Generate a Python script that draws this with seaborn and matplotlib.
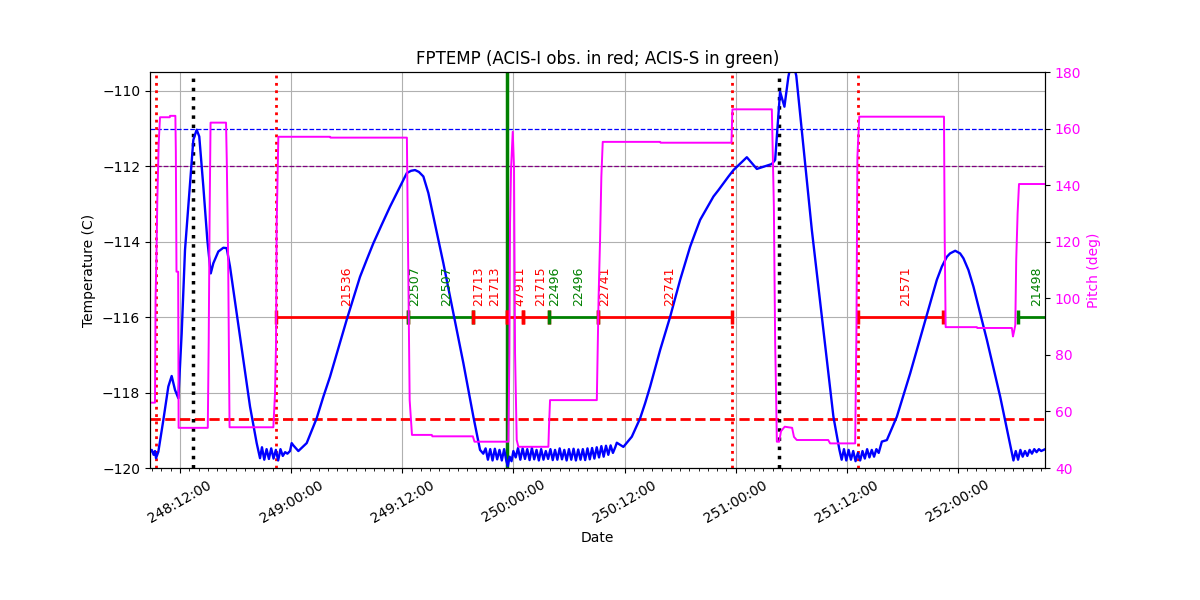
import numpy as np
import pandas as pd
import matplotlib
matplotlib.use("Agg")
import matplotlib.pyplot as plt
import matplotlib.dates as mdates
import seaborn as sns

# day 248 of 2019 -> 2019-09-05; all times below are hours since 248:00:00
BASE = pd.Timestamp("2019-09-05")

temp_hours = [
    # start, first double hump
    8.76, 8.95, 9.15, 9.30, 9.41, 9.66, 10.20, 10.74, 11.10, 11.46, 11.82, 12.18,
    12.54, 13.08, 13.44, 13.80, 14.08, 14.52, 14.95, 15.32, 15.60, 16.14, 16.68, 17.04,
    17.40, 18.12, 18.84, 19.56, 20.28, 20.64,
    # cold, noisy
    20.85, 21.10, 21.35, 21.60, 21.85, 22.10, 22.35, 22.60, 22.85, 23.10, 23.35, 23.60,
    23.88, 24.06, 24.24, 24.60, 24.78, 25.68,
    # big warm-up during 21536
    26.76, 27.48, 28.20, 29.10, 30.00, 30.72, 31.44, 32.16, 32.88, 33.78, 34.68, 35.58,
    36.49, 36.95, 37.38, 37.80, 38.28, 38.82, 39.36, 39.90, 40.44, 40.98, 41.52, 42.06,
    42.60, 43.14, 43.68, 44.40,
    # cold, noisy
    44.75, 45.00, 45.25, 45.50, 45.75, 46.00, 46.25, 46.50, 46.75, 47.00, 47.25, 47.40,
    47.60, 47.80, 48.00, 48.25, 48.50, 48.75, 49.00, 49.25, 49.50, 49.75, 50.00, 50.25,
    50.50, 50.75, 51.00, 51.25, 51.50, 51.75, 52.00, 52.25, 52.50, 52.75, 53.00, 53.25,
    53.50, 53.75, 54.00, 54.25, 54.50, 54.75, 55.00, 55.25, 55.50, 55.75, 56.00, 56.25,
    56.50, 56.75, 57.00, 57.25, 57.50, 57.75, 58.00, 58.25, 58.50, 58.75, 59.00, 59.17,
    # warm-up during 22741 and the spike
    59.88, 60.79, 61.69, 62.23, 62.77, 63.31, 63.85, 64.39, 64.93, 65.47, 66.01, 66.55,
    67.09, 67.63, 68.17, 68.89, 69.61, 70.15, 70.69, 71.23, 71.77, 73.21, 74.29, 75.91,
    76.27, 76.80, 77.27, 77.70, 78.10, 78.55, 80.23, 81.48, 82.56, 83.21,
    # cold, noisy
    83.45, 83.70, 83.95, 84.20, 84.45, 84.70, 84.95, 85.20, 85.45, 85.70, 85.95, 86.20,
    86.45, 86.70, 86.95, 87.20, 87.45, 87.79,
    # warm-up during 21571
    88.33, 89.41, 90.85, 92.29, 93.73, 94.27, 94.81, 95.16, 95.71, 96.24, 96.60, 97.14,
    97.68, 99.13, 100.57, 101.83,
    # cold, noisy
    102.00, 102.25, 102.50, 102.75, 103.00, 103.25, 103.50, 103.75, 104.00, 104.25, 104.50, 104.75,
    105.00, 105.43,
]
fptemp = [
    -119.58, -119.52, -119.65, -119.55, -119.74, -119.57, -118.73, -117.84, -117.56, -117.93, -118.15, -116.43,
    -114.22, -112.45, -111.30, -111.03, -111.21, -112.54, -113.95, -114.84, -114.57, -114.26, -114.16, -114.17,
    -114.66, -115.90, -117.14, -118.37, -119.34, -119.74,
    -119.45, -119.78, -119.50, -119.76, -119.48, -119.75, -119.52, -119.80, -119.50, -119.68, -119.58, -119.62,
    -119.55, -119.34, -119.40, -119.50, -119.55, -119.34,
    -118.68, -118.11, -117.58, -116.82, -116.07, -115.50, -114.93, -114.48, -114.04, -113.55, -113.07, -112.63,
    -112.18, -112.12, -112.10, -112.15, -112.27, -112.71, -113.33, -113.95, -114.57, -115.23, -115.90, -116.56,
    -117.22, -117.93, -118.64, -119.52,
    -119.62, -119.48, -119.78, -119.50, -119.80, -119.49, -119.77, -119.52, -119.80, -119.50, -119.82, -119.95,
    -119.70, -119.82, -119.55, -119.72, -119.47, -119.78, -119.48, -119.76, -119.50, -119.79, -119.47, -119.77,
    -119.52, -119.80, -119.50, -119.78, -119.55, -119.76, -119.50, -119.79, -119.52, -119.78, -119.48, -119.77,
    -119.52, -119.80, -119.50, -119.78, -119.49, -119.80, -119.51, -119.78, -119.50, -119.79, -119.48, -119.77,
    -119.47, -119.75, -119.45, -119.72, -119.42, -119.70, -119.41, -119.65, -119.40, -119.60, -119.45, -119.33,
    -119.44, -119.17, -118.68, -118.28, -117.84, -117.36, -116.87, -116.43, -115.99, -115.50, -115.01, -114.57,
    -114.13, -113.77, -113.42, -113.11, -112.80, -112.63, -112.45, -112.27, -112.10, -111.76, -112.07, -111.94,
    -111.83, -110.02, -110.42, -109.62, -109.15, -109.60, -113.69, -116.34, -118.64, -119.52,
    -119.78, -119.50, -119.80, -119.52, -119.78, -119.55, -119.82, -119.60, -119.80, -119.55, -119.75, -119.50,
    -119.72, -119.52, -119.70, -119.50, -119.60, -119.30,
    -119.26, -118.64, -117.49, -116.25, -115.01, -114.66, -114.40, -114.31, -114.24, -114.31, -114.44, -114.75,
    -115.19, -116.60, -118.11, -119.61,
    -119.80, -119.55, -119.78, -119.52, -119.70, -119.55, -119.68, -119.52, -119.62, -119.50, -119.58, -119.50,
    -119.55, -119.50,
]

pitch_hours = [
    8.76, 9.30, 9.36, 9.45, 9.55, 9.70, 9.84, 10.90, 10.92, 11.50, 11.55, 11.62, 11.80, 11.85,
    15.00, 15.10, 15.20, 15.30, 16.97, 17.05, 17.20, 17.35,
    22.08, 22.26, 22.37, 22.44, 22.62, 28.20, 28.25, 36.50, 36.60, 36.80, 37.05,
    39.19, 39.25, 43.62, 43.80, 47.29, 47.46, 47.57, 47.64, 47.75, 47.93, 48.07, 48.18, 48.36, 48.54,
    51.78, 51.85, 51.96, 57.01, 57.20, 57.36, 57.50, 57.65, 63.84, 63.90, 71.55, 71.65,
    75.91, 76.00, 76.13, 76.20, 76.27, 76.38, 76.45, 76.70, 76.90, 77.30, 78.10, 78.30, 78.60,
    82.00, 82.20, 84.91, 85.05, 85.15, 85.35, 94.50, 94.58, 94.68, 98.05, 98.10,
    101.83, 101.95, 102.05, 102.20, 102.30, 102.45, 102.60, 105.43,
]
pitch = [
    63.1, 63.1, 100, 113.5, 134.7, 154.8, 164.0, 164.0, 164.5, 164.5, 152, 109.4, 109.4, 54.2,
    54.2, 85, 130, 162.1, 162.1, 148.9, 113.5, 54.4,
    54.4, 66.4, 84, 126.5, 157.1, 157.1, 156.8, 156.8, 125.3, 64, 51.7,
    51.7, 51.2, 51.2, 49.3, 49.3, 49.3, 80.6, 126.6, 146, 158.9, 146, 80.6, 49.9, 47.5,
    47.5, 55, 64, 64, 100, 120.6, 143, 155.3, 155.3, 155.0, 155.0, 166.8,
    166.8, 153, 132.4, 107.6, 84.2, 64, 49.3, 49.3, 53, 54.6, 54.2, 51, 49.9,
    49.9, 48.7, 48.7, 90, 150, 164.2, 164.2, 120, 89.8, 89.8, 89.5,
    89.5, 86.5, 88, 90.5, 113.5, 130, 140.4, 140.4,
]

# science observations (I = ACIS-I, S = ACIS-S)
obs_start = [22.40, 36.66, 43.62, 47.35, 49.02, 51.82, 57.18, 85.26, 102.48]
obs_stop = [36.66, 43.62, 47.35, 49.02, 51.82, 57.18, 71.59, 94.38, 106.0]
obs_instr = ["I", "S", "I", "I", "I", "S", "I", "I", "S"]

label_hours = [30.0, 37.38, 40.81, 44.22, 46.02, 48.72, 50.96, 52.43, 55.02, 57.80, 64.82, 90.31, 104.53]
label_obsid = ["21536", "22507", "22507", "21713", "21713", "47911", "21715",
               "22496", "22496", "22741", "22741", "21571", "21498"]
label_instr = ["I", "S", "S", "I", "I", "I", "I", "S", "S", "I", "I", "I", "S"]

red_vlines = [9.41, 22.40, 71.59, 85.26]
black_vlines = [13.44, 76.64]
green_vline = 47.35

limit_planning = -111.0
limit_acis_i = -112.0
limit_red = -118.7
obs_level = -116.0

instr_color = {"I": "red", "S": "green"}


def to_time(hours):
    return BASE + pd.to_timedelta(np.asarray(hours, dtype=float), unit="h")


temp_df = pd.DataFrame({"time": to_time(temp_hours), "fptemp": fptemp})
pitch_df = pd.DataFrame({"time": to_time(pitch_hours), "pitch": pitch})

fig, ax1 = plt.subplots(figsize=(12, 6), dpi=100)
fig.subplots_adjust(left=0.125, right=0.871, bottom=0.22, top=0.88)

ax1.grid(True, color="#b0b0b0", lw=0.8)
ax1.set_axisbelow(True)

sns.lineplot(data=temp_df, x="time", y="fptemp", ax=ax1, color="blue", lw=1.7,
             estimator=None, sort=False, zorder=3)

ax1.axhline(limit_planning, color="blue", ls="--", lw=0.9)
ax1.axhline(limit_acis_i, color="purple", ls="--", lw=0.9)
ax1.axhline(limit_red, color="red", ls="--", lw=2)

for h in red_vlines:
    ax1.axvline(to_time([h])[0], color="red", ls=":", lw=2)
for h in black_vlines:
    ax1.axvline(to_time([h])[0], color="black", ls=":", lw=2.5)
ax1.axvline(to_time([green_vline])[0], color="green", lw=2.5)

for t0, t1, ins in zip(obs_start, obs_stop, obs_instr):
    tt = to_time([t0, t1])
    ax1.plot(tt, [obs_level, obs_level], color=instr_color[ins], lw=2,
             marker="|", markersize=10, markeredgewidth=2.5)

for h, obsid, ins in zip(label_hours, label_obsid, label_instr):
    ax1.text(to_time([h])[0], obs_level + 0.3, obsid, rotation=90, fontsize=9,
             ha="center", va="bottom", color=instr_color[ins])

ax2 = ax1.twinx()
sns.lineplot(data=pitch_df, x="time", y="pitch", ax=ax2, color="magenta", lw=1.4,
             estimator=None, sort=False)
ax2.set_ylim(40, 180)
ax2.set_ylabel("Pitch (deg)", color="magenta")
ax2.tick_params(axis="y", labelcolor="magenta")

ax1.set_xlim(to_time([8.76])[0], to_time([105.43])[0])
ax1.set_ylim(-120, -109.5)
ax1.set_yticks(np.arange(-120, -109, 2))
ax1.xaxis.set_major_locator(mdates.HourLocator(byhour=[0, 12]))
ax1.xaxis.set_major_formatter(mdates.DateFormatter("%j:%H:%M"))
ax1.xaxis.set_minor_locator(mdates.HourLocator())
plt.setp(ax1.get_xticklabels(), rotation=30, ha="center")

ax1.set_xlabel("Date")
ax1.set_ylabel("Temperature (C)")
ax1.set_title("FPTEMP (ACIS-I obs. in red; ACIS-S in green)")

fig.savefig("out.png", dpi=100)
